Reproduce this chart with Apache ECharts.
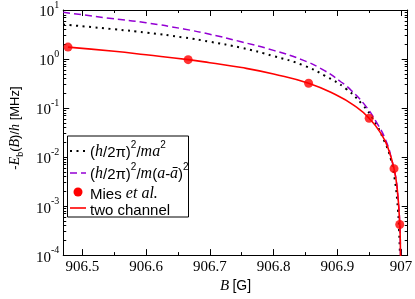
<!DOCTYPE html>
<html><head><meta charset="utf-8">
<script src="https://cdn.jsdelivr.net/npm/echarts@6/dist/echarts.min.js"></script>
<style>html,body{margin:0;padding:0;background:#fff}#c{width:415px;height:299px}</style>
</head><body><div id="c"></div>
<script>
// ---- tick data ----
const xMajorTicks = [906.5, 906.6, 906.7, 906.8, 906.9, 907.0];
const xTickLabels = ['906.5', '906.6', '906.7', '906.8', '906.9', '907'];
const xMinorTicks = [906.55, 906.65, 906.75, 906.85, 906.95];
const yMajorTicks = [1e-4, 1e-3, 1e-2, 1e-1, 1, 10];
const yTickExponents = ['-4', '-3', '-2', '-1', '0', '1'];
const yMinorTicks = [
  2e-4, 3e-4, 4e-4, 5e-4, 6e-4, 7e-4, 8e-4, 9e-4,
  2e-3, 3e-3, 4e-3, 5e-3, 6e-3, 7e-3, 8e-3, 9e-3,
  2e-2, 3e-2, 4e-2, 5e-2, 6e-2, 7e-2, 8e-2, 9e-2,
  0.2, 0.3, 0.4, 0.5, 0.6, 0.7, 0.8, 0.9,
  2, 3, 4, 5, 6, 7, 8, 9
];

// ---- series data (B in G, -Eb/h in MHz) ----
const bDotted = [906.470, 906.550, 906.600, 906.659, 906.700, 906.749, 906.800, 906.846, 906.880, 906.914, 906.940, 906.956, 906.974, 906.984, 906.990, 906.994, 906.997, 906.999];
const eDotted = [5.05, 4.05, 3.45, 2.75, 2.25, 1.70, 1.15, 0.75, 0.46, 0.245, 0.115, 0.06, 0.021, 0.0091, 0.0036, 0.0013, 0.00032, 0.00004];

const bDashed = [906.470, 906.546, 906.600, 906.659, 906.700, 906.749, 906.800, 906.846, 906.880, 906.906, 906.921, 906.944, 906.962, 906.977, 906.986, 906.992, 906.995, 906.998, 906.9992, 906.9996];
const eDashed = [9.0, 6.7, 5.5, 4.1, 3.2, 2.25, 1.5, 0.95, 0.58, 0.34, 0.235, 0.112, 0.05, 0.0205, 0.0082, 0.0037, 0.0016, 0.00045, 0.0001, 0.00004];

const bTwoChannel = [906.4775, 906.550, 906.600, 906.666, 906.700, 906.750, 906.800, 906.855, 906.900, 906.925, 906.950, 906.970, 906.980, 906.989, 906.994, 906.998, 906.9992, 906.9996];
const eTwoChannel = [1.75, 1.44, 1.22, 0.97, 0.84, 0.67, 0.495, 0.32, 0.18, 0.116, 0.062, 0.028, 0.0148, 0.0058, 0.00227, 0.00042, 0.0001, 0.00004];

const bMies = [906.4775, 906.666, 906.855, 906.950, 906.989, 906.998];
const eMies = [1.75, 0.97, 0.32, 0.062, 0.0058, 0.00042];

const pair = (xs, ys) => xs.map((x, i) => [x, ys[i]]);

const X_MIN = 906.47, X_MAX = 907.0105;
const Y_MIN = 1e-4, Y_MAX = 10;
const SERIF = '"Liberation Serif", "DejaVu Serif", serif';
const SANS = '"Liberation Sans", Arial, sans-serif';
const lineCol = '#000';

function xLabel(v) {
  for (let i = 0; i < xMajorTicks.length; i++) if (Math.abs(v - xMajorTicks[i]) < 1e-6) return xTickLabels[i];
  return '';
}
function yLabel(v) {
  for (let i = 0; i < yMajorTicks.length; i++)
    if (Math.abs(Math.log10(v) - Math.log10(yMajorTicks[i])) < 1e-6) return '{b|10}{s|' + yTickExponents[i] + '}';
  return '';
}

function xAx(pos, ticks, len, main) {
  return {
    type: 'value', position: pos, min: X_MIN, max: X_MAX,
    axisLine: { show: main, lineStyle: { color: lineCol, width: 1 } },
    axisTick: { show: true, inside: true, length: len, customValues: ticks, lineStyle: { color: lineCol, width: 1 } },
    axisLabel: main && pos === 'bottom' ? {
      show: true, customValues: xMajorTicks, formatter: xLabel, color: '#000',
      fontFamily: SERIF, fontSize: 15, margin: 4
    } : { show: false },
    splitLine: { show: false },
    name: main && pos === 'bottom' ? '{i|B} {n|[G]}' : '',
    nameLocation: 'middle', nameGap: 17,
    nameTextStyle: { rich: { i: { fontFamily: SERIF, fontStyle: 'italic', fontSize: 15, color: '#000' }, n: { fontFamily: SANS, fontSize: 14, color: '#000' } } }
  };
}
function yAx(pos, ticks, len, main) {
  return {
    type: 'log', logBase: 10, position: pos, min: Y_MIN, max: Y_MAX,
    axisLine: { show: main, lineStyle: { color: lineCol, width: 1 } },
    axisTick: { show: true, inside: true, length: len, customValues: ticks, lineStyle: { color: lineCol, width: 1 } },
    axisLabel: main && pos === 'left' ? {
      show: true, customValues: yMajorTicks, formatter: yLabel, margin: 4,
      rich: {
        b: { fontFamily: SERIF, fontSize: 15, color: '#000', lineHeight: 20, verticalAlign: 'bottom' },
        s: { fontFamily: SERIF, fontSize: 10, color: '#000', lineHeight: 20, verticalAlign: 'top' }
      }
    } : { show: false },
    splitLine: { show: false }, minorTick: { show: false },
    name: main && pos === 'left' ? '{n|-}{i|E}{sub|b}{n|(}{i|B}{n|)/}{i|h}{n| [MHz]}' : '',
    nameLocation: 'middle', nameGap: 32, nameRotate: 90,
    nameTextStyle: {
      padding: [0, 0, 0, 9],
      rich: {
        n: { fontFamily: SANS, fontSize: 13, color: '#000', lineHeight: 20, verticalAlign: 'middle' },
        i: { fontFamily: SERIF, fontStyle: 'italic', fontSize: 14, color: '#000', lineHeight: 20, verticalAlign: 'middle' },
        sub: { fontFamily: SANS, fontSize: 9, color: '#000', lineHeight: 20, verticalAlign: 'bottom' }
      }
    }
  };
}

const legendRich = {
  n: { fontFamily: SANS, fontSize: 15, fill: '#000', lineHeight: 20, verticalAlign: 'bottom' },
  i: { fontFamily: SERIF, fontStyle: 'italic', fontSize: 16, fill: '#000', lineHeight: 20, verticalAlign: 'bottom' },
  s: { fontFamily: SANS, fontSize: 10, fill: '#000', lineHeight: 20, verticalAlign: 'top' }
};

const LX = 67.5, LY = 136, LW = 121, LH = 81;
const textX = 90;
const rows = [150, 172, 192, 208];

const lineCommon = { showSymbol: false, smooth: 0.5, clip: true };

const chart = echarts.init(document.getElementById('c'), null, { renderer: 'canvas' });
chart.setOption({
  animation: false,
  backgroundColor: '#fff',
  grid: { left: 49, right: 6, top: 10, bottom: 37, containLabel: false },
  xAxis: [xAx('bottom', xMajorTicks, 6, true), xAx('bottom', xMinorTicks, 3, false), xAx('top', xMajorTicks, 6, true), xAx('top', xMinorTicks, 3, false)],
  yAxis: [yAx('left', yMajorTicks, 6, true), yAx('left', yMinorTicks, 3, false), yAx('right', yMajorTicks, 6, true), yAx('right', yMinorTicks, 3, false)],
  series: [
    Object.assign({ type: 'line', name: 'ma2', data: pair(bDotted, eDotted),
      lineStyle: { color: '#000', width: 2, type: [2, 4.5] }, z: 2 }, lineCommon),
    Object.assign({ type: 'line', name: 'maa', data: pair(bDashed, eDashed),
      lineStyle: { color: '#9400D3', width: 1.5, type: [7, 4] }, z: 3 }, lineCommon),
    Object.assign({ type: 'line', name: 'two', data: pair(bTwoChannel, eTwoChannel),
      lineStyle: { color: '#ff0000', width: 1.6 }, z: 4 }, lineCommon),
    { type: 'scatter', name: 'Mies', data: pair(bMies, eMies), symbol: 'circle', symbolSize: 9,
      itemStyle: { color: '#ff0000' }, z: 5 }
  ],
  graphic: [
    { type: 'rect', shape: { x: LX, y: LY, width: LW, height: LH }, style: { fill: '#fff', stroke: '#000', lineWidth: 1 }, z: 100 },
    { type: 'line', shape: { x1: 70, y1: rows[0] + 1, x2: 86, y2: rows[0] + 1 }, style: { stroke: '#000', lineWidth: 2, lineDash: [2, 4.5] }, z: 101 },
    { type: 'line', shape: { x1: 70, y1: rows[1] + 1, x2: 86, y2: rows[1] + 1 }, style: { stroke: '#9400D3', lineWidth: 1.5, lineDash: [7, 4] }, z: 101 },
    { type: 'circle', shape: { cx: 78, cy: rows[2], r: 4.5 }, style: { fill: '#ff0000' }, z: 101 },
    { type: 'line', shape: { x1: 70, y1: rows[3], x2: 86, y2: rows[3] }, style: { stroke: '#ff0000', lineWidth: 1.6 }, z: 101 },
    { type: 'text', x: textX, y: rows[0], z: 101, style: { text: '{n|(}{i|h}{n|/2π)}{s|2}{n|/}{i|ma}{s|2}', rich: legendRich, verticalAlign: 'middle' } },
    { type: 'text', x: textX, y: rows[1], z: 101, style: { text: '{n|(}{i|h}{n|/2π)}{s|2}{n|/}{i|m}{n|(}{i|a}{n|-}{i|ā}{n|)}{s|2}', rich: legendRich, verticalAlign: 'middle' } },
    { type: 'text', x: textX, y: rows[2], z: 101, style: { text: '{n|Mies }{i|et al.}', rich: legendRich, verticalAlign: 'middle' } },
    { type: 'text', x: textX, y: rows[3], z: 101, style: { text: '{n|two channel}', rich: legendRich, verticalAlign: 'middle' } }
  ]
});
</script></body></html>
